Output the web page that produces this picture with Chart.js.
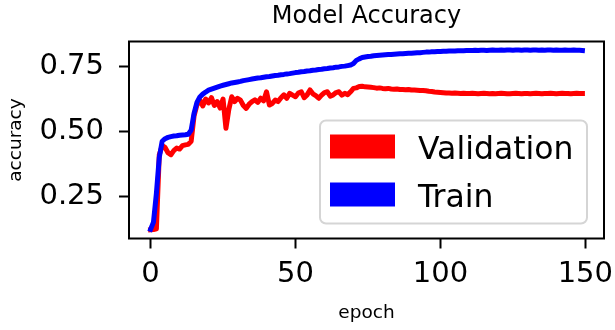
<!DOCTYPE html>
<html>
<head>
<meta charset="utf-8">
<title>Model Accuracy</title>
<script src="https://cdn.jsdelivr.net/npm/chart.js@4.4.1/dist/chart.umd.min.js"></script>
<style>
  body { margin: 0; background: #fff; }
  #chart-container { width: 615px; height: 330px; }
</style>
</head>
<body>
<div id="chart-container">
  <canvas id="myChart" width="615" height="330"></canvas>
</div>
<script>
// accuracy per epoch
const valAcc = [
  0.120, 0.121, 0.124, 0.410, 0.445, 0.438, 0.418, 0.410, 0.426, 0.436,
  0.432, 0.445, 0.448, 0.450, 0.462, 0.560, 0.602, 0.621, 0.598, 0.625,
  0.610, 0.630, 0.600, 0.615, 0.590, 0.625, 0.512, 0.585, 0.634, 0.615,
  0.628, 0.621, 0.600, 0.589, 0.605, 0.615, 0.622, 0.612, 0.628, 0.618,
  0.653, 0.602, 0.608, 0.621, 0.615, 0.630, 0.641, 0.628, 0.647, 0.640,
  0.634, 0.648, 0.653, 0.630, 0.641, 0.660, 0.645, 0.638, 0.628, 0.640,
  0.650, 0.653, 0.636, 0.641, 0.650, 0.653, 0.640, 0.647, 0.642, 0.653,
  0.666, 0.668, 0.673, 0.674, 0.672, 0.671, 0.670, 0.669, 0.667, 0.668,
  0.666, 0.665, 0.666, 0.664, 0.663, 0.664, 0.662, 0.662, 0.661, 0.662,
  0.660, 0.660, 0.659, 0.658, 0.658, 0.657, 0.655, 0.654, 0.652, 0.651,
  0.650, 0.649, 0.648, 0.648, 0.647, 0.648, 0.647, 0.646, 0.647, 0.646,
  0.646, 0.647, 0.646, 0.645, 0.646, 0.647, 0.646, 0.645, 0.646, 0.645,
  0.646, 0.647, 0.646, 0.645, 0.645, 0.646, 0.647, 0.646, 0.645, 0.646,
  0.646, 0.645, 0.646, 0.647, 0.646, 0.645, 0.646, 0.646, 0.647, 0.646,
  0.645, 0.646, 0.647, 0.646, 0.646, 0.645, 0.646, 0.647, 0.646, 0.646
]

const trainAcc = [
  0.122, 0.150, 0.260, 0.400, 0.462, 0.472, 0.477, 0.480, 0.482, 0.483,
  0.485, 0.486, 0.487, 0.489, 0.505, 0.570, 0.612, 0.633, 0.644, 0.652,
  0.659, 0.663, 0.667, 0.671, 0.675, 0.678, 0.681, 0.684, 0.687, 0.689,
  0.691, 0.693, 0.696, 0.698, 0.700, 0.702, 0.704, 0.706, 0.707, 0.709,
  0.711, 0.712, 0.714, 0.716, 0.717, 0.719, 0.720, 0.722, 0.723, 0.725,
  0.727, 0.728, 0.730, 0.731, 0.733, 0.734, 0.736, 0.737, 0.739, 0.740,
  0.742, 0.743, 0.745, 0.746, 0.748, 0.749, 0.751, 0.752, 0.754, 0.756,
  0.762, 0.774, 0.780, 0.785, 0.787, 0.789, 0.790, 0.792, 0.793, 0.794,
  0.795, 0.796, 0.797, 0.797, 0.798, 0.799, 0.800, 0.800, 0.801, 0.802,
  0.802, 0.803, 0.804, 0.804, 0.805, 0.806, 0.806, 0.807, 0.807, 0.808,
  0.808, 0.809, 0.809, 0.810, 0.810, 0.810, 0.811, 0.811, 0.811, 0.812,
  0.812, 0.812, 0.813, 0.812, 0.813, 0.813, 0.812, 0.813, 0.814, 0.813,
  0.813, 0.814, 0.813, 0.814, 0.814, 0.813, 0.814, 0.814, 0.813, 0.814,
  0.814, 0.813, 0.814, 0.814, 0.813, 0.814, 0.813, 0.814, 0.814, 0.813,
  0.814, 0.813, 0.813, 0.814, 0.813, 0.813, 0.814, 0.813, 0.813, 0.812
]

const xTicks = [0, 50, 100, 150]
const yTicks = [0.25, 0.50, 0.75]
const seriesLabels = ['Validation', 'Train']
const seriesColors = ['rgb(255, 0, 0)', 'rgb(0, 0, 255)']
const titleText = 'Model Accuracy'

Chart.defaults.font.family = "'DejaVu Sans', sans-serif"
Chart.defaults.color = '#000'

// matplotlib-ish frame, title and legend box
const decorations = {
  id: 'decorations',
  afterDatasetsDraw(chart) {
    const { ctx, chartArea: a } = chart
    ctx.save()
    ctx.strokeStyle = '#000'
    ctx.lineWidth = 2
    ctx.strokeRect(a.left, a.top, a.right - a.left, a.bottom - a.top)
    ctx.restore()
  },
  afterDraw(chart) {
    const { ctx, chartArea: a } = chart
    ctx.save()

    ctx.fillStyle = '#000'
    ctx.font = "24px 'DejaVu Sans'"
    ctx.textAlign = 'center'
    ctx.textBaseline = 'alphabetic'
    ctx.fillText(titleText, (a.left + a.right) / 2, 23)

    const lx = a.right - 284
    const ly = a.bottom - 118
    const lw = 267
    const lh = 103
    ctx.beginPath()
    ctx.roundRect(lx, ly, lw, lh, 6)
    ctx.fillStyle = 'rgba(255, 255, 255, 0.85)'
    ctx.fill()
    ctx.strokeStyle = '#d5d5d5'
    ctx.lineWidth = 2
    ctx.stroke()

    ctx.font = "31.5px 'DejaVu Sans'"
    ctx.textAlign = 'left'
    chart.data.datasets.forEach((ds, i) => {
      const rowTop = ly + 14 + i * 48
      ctx.fillStyle = ds.borderColor
      ctx.fillRect(lx + 10, rowTop, 65, 24)
      ctx.fillStyle = '#000'
      ctx.fillText(ds.label, lx + 98, rowTop + 24)
    })
    ctx.restore()
  }
}

const data = {
  datasets: [{
    label: seriesLabels[0],
    borderColor: seriesColors[0],
    backgroundColor: seriesColors[0],
    data: valAcc.map((v, i) => ({ x: i, y: v })),
    order: 1
  }, {
    label: seriesLabels[1],
    borderColor: seriesColors[1],
    backgroundColor: seriesColors[1],
    data: trainAcc.map((v, i) => ({ x: i, y: v })),
    order: 0
  }]
}

const config = {
  type: 'line',
  data: data,
  options: {
    responsive: false,
    animation: false,
    layout: { padding: { top: 41.5, right: 11, bottom: 0, left: 0 } },
    elements: {
      point: { radius: 0 },
      line: { borderWidth: 5, tension: 0, borderJoinStyle: 'round', borderCapStyle: 'square' }
    },
    plugins: {
      legend: { display: false },
      title: { display: false },
      tooltip: { enabled: false }
    },
    scales: {
      x: {
        type: 'linear',
        min: -7.45,
        max: 156.45,
        afterBuildTicks: (scale) => { scale.ticks = xTicks.map(v => ({ value: v })) },
        afterFit: (scale) => {
          scale.height = 91.5
          scale.paddingLeft = 0
          scale.paddingRight = 0
        },
        border: { display: false },
        grid: { drawOnChartArea: false, drawTicks: true, tickLength: 10, tickWidth: 2, color: '#000' },
        ticks: { font: { size: 29 }, padding: 9, maxRotation: 0, autoSkip: false, callback: (v) => v },
        title: { display: true, text: 'epoch', font: { size: 18.5 }, padding: { top: 0, bottom: 6 } }
      },
      y: {
        min: 0.0867,
        max: 0.847,
        afterBuildTicks: (scale) => { scale.ticks = yTicks.map(v => ({ value: v })) },
        afterFit: (scale) => {
          scale.width = 129
          scale.paddingTop = 0
          scale.paddingBottom = 0
        },
        border: { display: false },
        grid: { drawOnChartArea: false, drawTicks: true, tickLength: 10, tickWidth: 2, color: '#000' },
        ticks: { font: { size: 29 }, padding: 15, callback: (v) => Number(v).toFixed(2) },
        title: { display: true, text: 'accuracy', font: { size: 18.5 }, padding: { top: 5, bottom: 0 } }
      }
    }
  },
  plugins: [decorations]
}

const myChart = new Chart(document.getElementById('myChart'), config)
</script>
</body>
</html>
